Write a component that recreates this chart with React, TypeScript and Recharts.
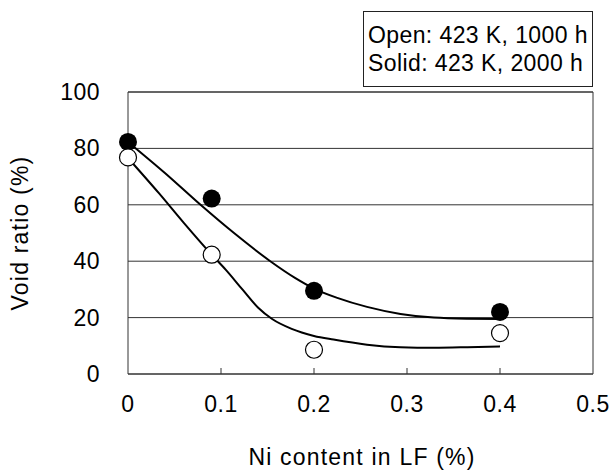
import {
  ComposedChart,
  Line,
  Scatter,
  XAxis,
  YAxis,
  CartesianGrid,
  ReferenceLine,
} from "recharts";

// measured points (Ni content %, void ratio %)
const solidX = [0, 0.09, 0.2, 0.4];
const solidY = [82.3, 62.2, 29.5, 22.0];
const openX = [0, 0.09, 0.2, 0.4];
const openY = [76.8, 42.3, 8.6, 14.5];

// fitted trend curves
const solidCurveX = [0, 0.04, 0.078, 0.115, 0.153, 0.18, 0.2, 0.225, 0.257, 0.293, 0.329, 0.365, 0.4];
const solidCurveY = [82.3, 71.2, 60, 49.7, 40, 34, 30.3, 27, 23.8, 21.3, 20.0, 19.6, 19.5];
const openCurveX = [0, 0.033, 0.06, 0.09, 0.105, 0.123, 0.14, 0.155, 0.176, 0.2, 0.221, 0.257, 0.293, 0.329, 0.365, 0.4];
const openCurveY = [76.6, 64.2, 53.6, 42.3, 37, 30, 23.5, 19.5, 16, 13.5, 12.2, 10.4, 9.5, 9.3, 9.5, 9.8];

const xTicks = [0, 0.1, 0.2, 0.3, 0.4, 0.5];
const yTicks = [0, 20, 40, 60, 80, 100];
const legendLines = ["Open: 423 K, 1000 h", "Solid: 423 K, 2000 h"];

const FONT = "'Liberation Sans', Arial, sans-serif";

const zip = (xs: number[], ys: number[]) => xs.map((x, i) => ({ x, y: ys[i] }));

const XTick = (props: any) => {
  const { x, y, payload } = props;
  const v = payload.value as number;
  const inner = v > 0 && v < 0.5;
  return (
    <g>
      {inner && <line x1={x} y1={y - 6} x2={x} y2={y} stroke="#333" strokeWidth={1} />}
      <text
        x={x}
        y={y + 38}
        textAnchor="middle"
        fontFamily={FONT}
        fontSize={23}
        letterSpacing={0.5}
        fill="#000"
      >
        {v === 0 ? "0" : v.toFixed(1)}
      </text>
    </g>
  );
};

const YTick = (props: any) => {
  const { y, payload } = props;
  return (
    <text
      x={100}
      y={y + 8}
      textAnchor="end"
      fontFamily={FONT}
      fontSize={23}
      letterSpacing={0.5}
      fill="#000"
    >
      {payload.value}
    </text>
  );
};

const SolidDot = (props: any) => <circle cx={props.cx} cy={props.cy} r={9} fill="#000" />;
const OpenDot = (props: any) => (
  <circle cx={props.cx} cy={props.cy} r={8.5} fill="#fff" stroke="#000" strokeWidth={1.2} />
);

export default function App() {
  return (
    <div style={{ position: "absolute", left: 0, top: 0, width: 613, height: 474, background: "#fff" }}>
      <ComposedChart
        width={613}
        height={474}
        margin={{ top: 92, right: 20, bottom: 0, left: 0 }}
      >
        <CartesianGrid horizontal vertical={false} stroke="#333" strokeWidth={1} />
        <XAxis
          type="number"
          dataKey="x"
          domain={[0, 0.5]}
          ticks={xTicks}
          height={100}
          tickSize={0}
          tickMargin={0}
          tickLine={false}
          axisLine={{ stroke: "#333", strokeWidth: 1 }}
          tick={<XTick />}
          interval={0}
        />
        <YAxis
          type="number"
          dataKey="y"
          domain={[0, 100]}
          ticks={yTicks}
          width={128}
          tickSize={0}
          tickMargin={0}
          tickLine={false}
          axisLine={{ stroke: "#333", strokeWidth: 1 }}
          tick={<YTick />}
          interval={0}
        />
        <ReferenceLine y={100} stroke="#333" strokeWidth={1} />
        <ReferenceLine x={0.5} stroke="#333" strokeWidth={1} />
        <Line
          data={zip(solidCurveX, solidCurveY)}
          dataKey="y"
          type="monotone"
          stroke="#000"
          strokeWidth={2}
          dot={false}
          activeDot={false}
          isAnimationActive={false}
        />
        <Line
          data={zip(openCurveX, openCurveY)}
          dataKey="y"
          type="monotone"
          stroke="#000"
          strokeWidth={2}
          dot={false}
          activeDot={false}
          isAnimationActive={false}
        />
        <Scatter data={zip(solidX, solidY)} dataKey="y" shape={<SolidDot />} isAnimationActive={false} />
        <Scatter data={zip(openX, openY)} dataKey="y" shape={<OpenDot />} isAnimationActive={false} />
      </ComposedChart>
      <svg
        width={613}
        height={474}
        style={{ position: "absolute", left: 0, top: 0, pointerEvents: "none" }}
      >
        <rect x={363.5} y={11.5} width={229} height={75} fill="#fff" stroke="#222" strokeWidth={1} />
        {legendLines.map((t, i) => (
          <text
            key={t}
            x={368}
            y={42.5 + i * 28.5}
            fontFamily={FONT}
            fontSize={23}
            letterSpacing={0.4}
            fill="#000"
          >
            {t}
          </text>
        ))}
        <text
          x={28}
          y={233}
          transform="rotate(-90 28 233)"
          textAnchor="middle"
          fontFamily={FONT}
          fontSize={23}
          letterSpacing={1.2}
          fill="#000"
        >
          Void ratio (%)
        </text>
        <text
          x={362}
          y={465}
          textAnchor="middle"
          fontFamily={FONT}
          fontSize={23}
          letterSpacing={1.2}
          fill="#000"
        >
          Ni content in LF (%)
        </text>
      </svg>
    </div>
  );
}
